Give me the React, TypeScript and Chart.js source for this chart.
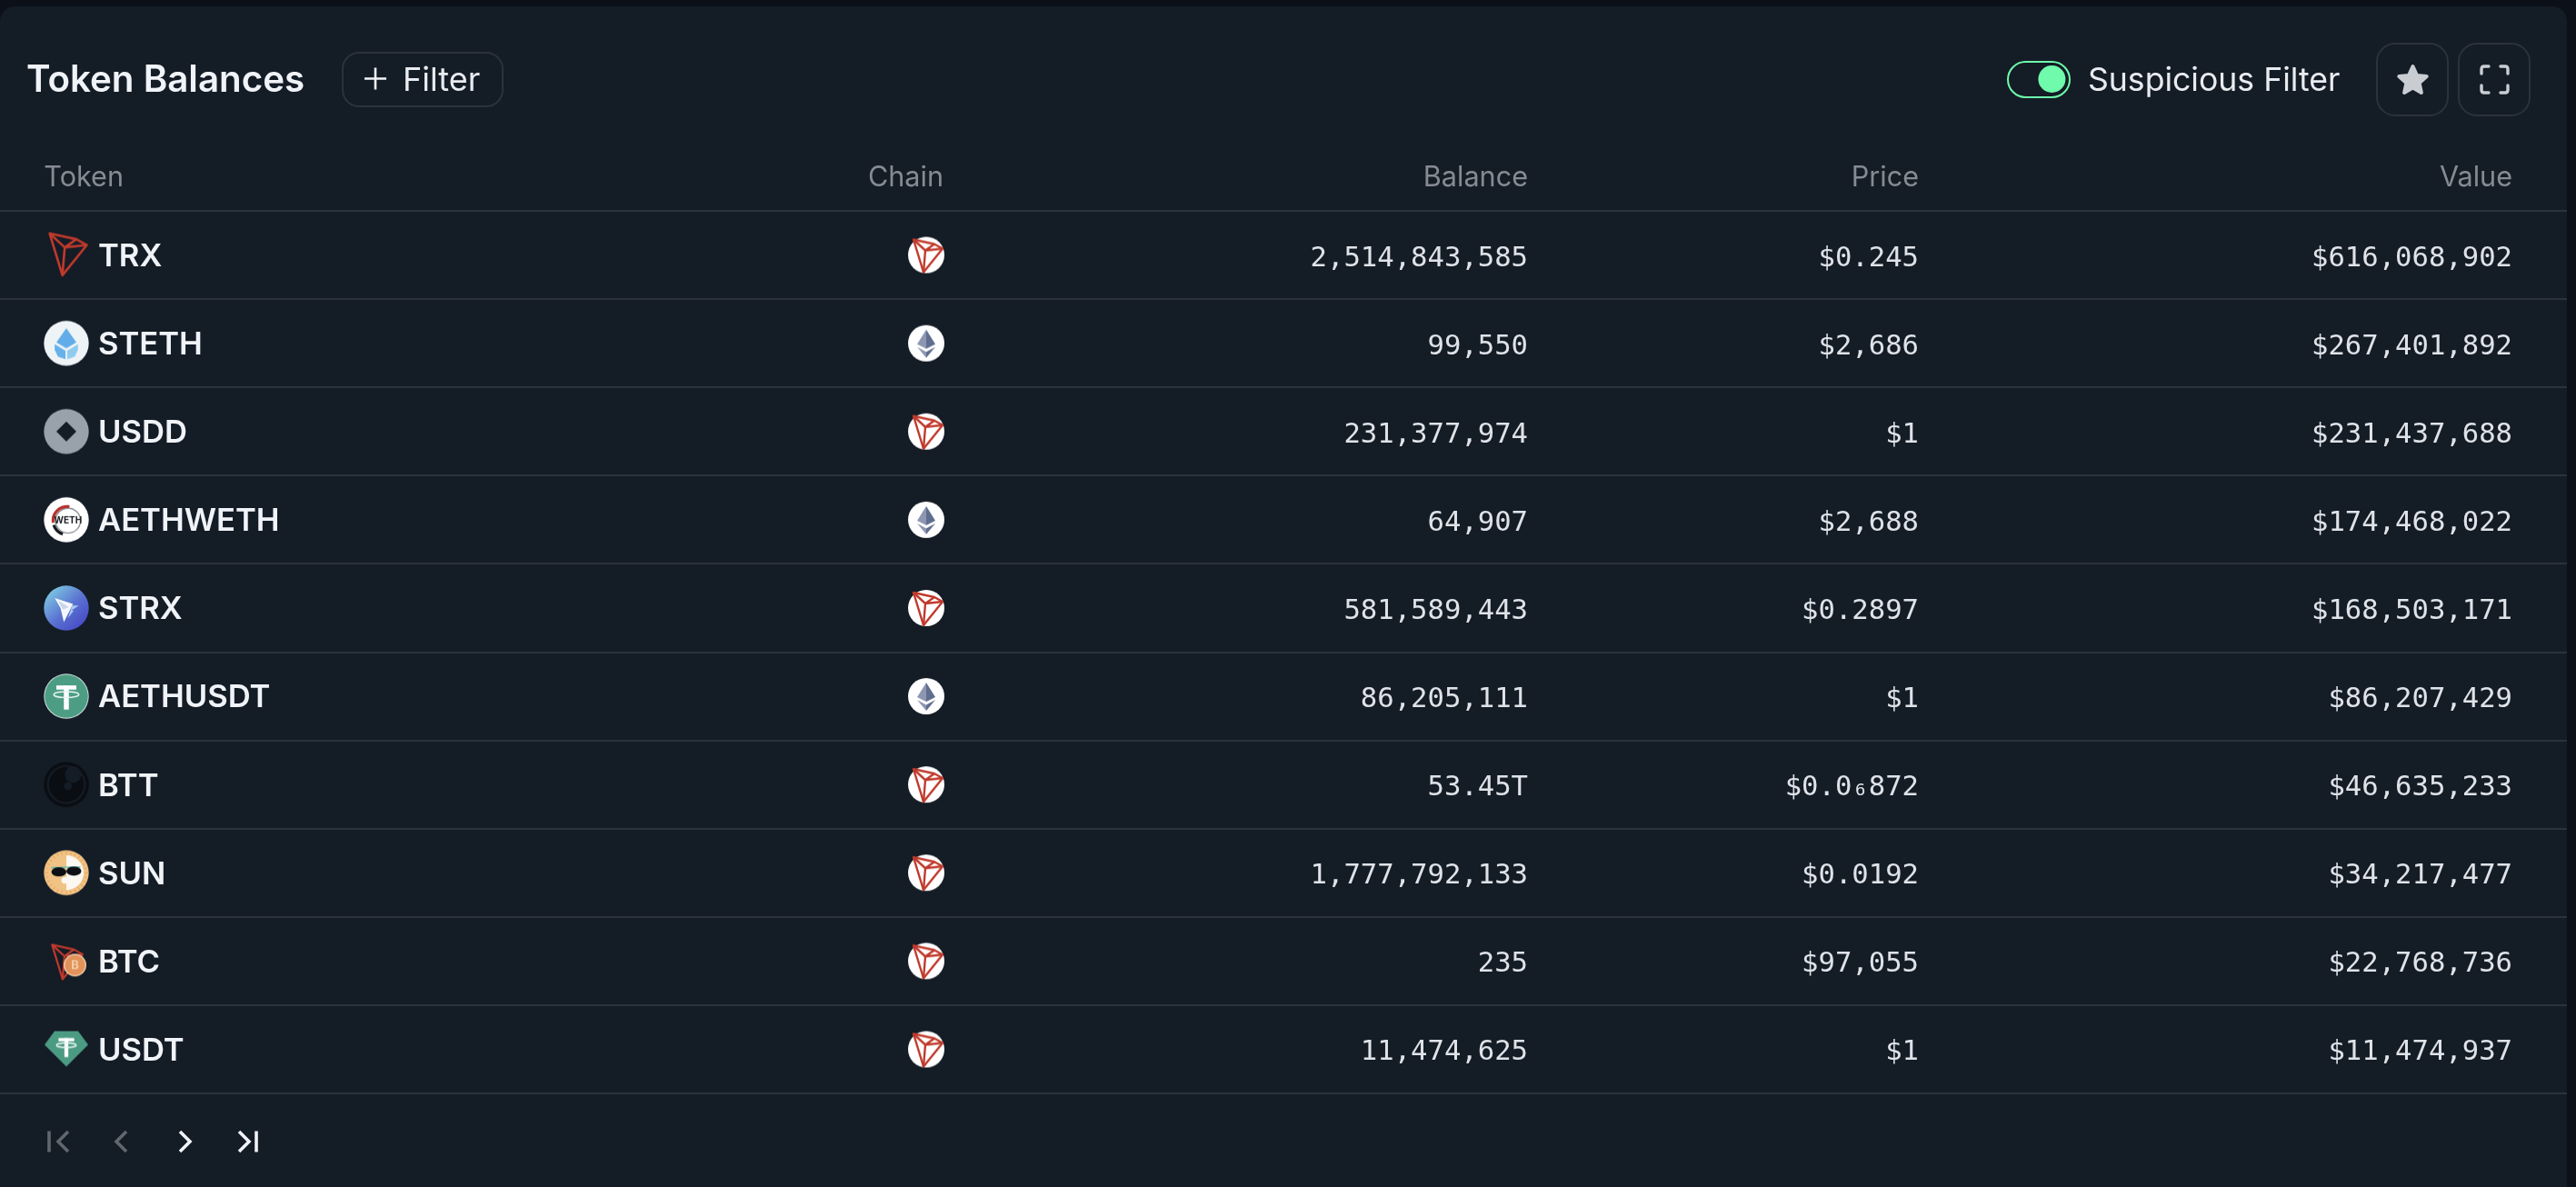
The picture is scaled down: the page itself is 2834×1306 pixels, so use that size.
import React, { useEffect, useRef } from "react";
import { Chart, registerables } from "chart.js";

Chart.register(...registerables);

// ---- data ----
const columnHeaders = ["Token", "Chain", "Balance", "Price", "Value"];
const tokens = ["TRX", "STETH", "USDD", "AETHWETH", "STRX", "AETHUSDT", "BTT", "SUN", "BTC", "USDT"];
const chains = ["TRON", "ETH", "TRON", "ETH", "TRON", "ETH", "TRON", "TRON", "TRON", "TRON"];
const balances = ["2,514,843,585", "99,550", "231,377,974", "64,907", "581,589,443", "86,205,111", "53.45T", "1,777,792,133", "235", "11,474,625"];
const prices = ["$0.245", "$2,686", "$1", "$2,688", "$0.2897", "$1", "$0.0₆872", "$0.0192", "$97,055", "$1"];
const values = ["$616,068,902", "$267,401,892", "$231,437,688", "$174,468,022", "$168,503,171", "$86,207,429", "$46,635,233", "$34,217,477", "$22,768,736", "$11,474,937"];

// ---- layout and style ----
const W = 2834;
const H = 1306;
const PANEL_RIGHT = 2824;
const HEADER_BOTTOM = 232;
const TABLE_BOTTOM = 1203;
const X_ICON = 73;
const X_CHAIN = 1019;
const X_BALANCE = 1681;
const X_PRICE = 2111;
const X_VALUE = 2764;
const headerEdges = [136, 1038, X_BALANCE, X_PRICE, X_VALUE];
const ICON_SCALE = 24.7 / 27;

const BG = "#141c26";
const OUTER = "#0c1018";
const LINE = "#2b323d";
const TEXT = "#f0f3f7";
const SANS = "Inter, 'Noto Sans', sans-serif";
const MONO = "'DejaVu Sans Mono', 'Liberation Mono', monospace";
const RED = "#c03a2c";

function poly(c: CanvasRenderingContext2D, pts: number[][], fill?: string) {
  c.beginPath();
  pts.forEach((p, i) => (i ? c.lineTo(p[0], p[1]) : c.moveTo(p[0], p[1])));
  c.closePath();
  if (fill) {
    c.fillStyle = fill;
    c.fill();
  }
}

function disc(c: CanvasRenderingContext2D, r: number, fill: string | CanvasGradient, x = 0, y = 0) {
  c.beginPath();
  c.arc(x, y, r, 0, Math.PI * 2);
  c.fillStyle = fill;
  c.fill();
}

function tron(c: CanvasRenderingContext2D, s: number, lw: number) {
  const TL = [-14 * s, -17 * s];
  const TR = [9 * s, -12 * s];
  const R = [18 * s, -7 * s];
  const B = [-3 * s, 19 * s];
  const M = [-1 * s, -5 * s];
  c.strokeStyle = RED;
  c.lineWidth = lw;
  c.lineJoin = "round";
  poly(c, [TL, TR, R, B]);
  c.stroke();
  c.beginPath();
  c.moveTo(TL[0], TL[1]);
  c.lineTo(M[0], M[1]);
  c.lineTo(B[0], B[1]);
  c.moveTo(M[0], M[1]);
  c.lineTo(R[0], R[1]);
  c.moveTo(M[0], M[1]);
  c.lineTo(TR[0], TR[1]);
  c.stroke();
}

function tetherMark(c: CanvasRenderingContext2D, s: number, dy: number) {
  c.fillStyle = "#ffffff";
  c.fillRect(-12 * s, dy - 13 * s, 24 * s, 5 * s);
  c.fillRect(-3 * s, dy - 13 * s, 6 * s, 29 * s);
  c.strokeStyle = "#e6f3ef";
  c.lineWidth = 1.6;
  c.beginPath();
  c.ellipse(0, dy - 2 * s, 15 * s, 3.5 * s, 0, 0, Math.PI * 2);
  c.stroke();
}

function icon(draw: (c: CanvasRenderingContext2D) => void, s = 1) {
  const cv = document.createElement("canvas");
  cv.width = 64;
  cv.height = 64;
  const c = cv.getContext("2d") as CanvasRenderingContext2D;
  c.translate(32, 32);
  c.scale(s, s);
  draw(c);
  return cv;
}

const chainPainters: Record<string, (c: CanvasRenderingContext2D) => void> = {
  TRON: (c) => {
    disc(c, 20, "#ffffff");
    tron(c, 1, 2.4);
  },
  ETH: (c) => {
    disc(c, 20, "#ffffff");
    poly(c, [[0, -15], [10, 1], [0, 6]], "#5f6d8e");
    poly(c, [[0, -15], [-10, 1], [0, 6]], "#8c96b2");
    poly(c, [[0, 16], [10, 4], [0, 9.5]], "#5f6d8e");
    poly(c, [[0, 16], [-10, 4], [0, 9.5]], "#8c96b2");
  },
};

const tokenPainters: Record<string, (c: CanvasRenderingContext2D) => void> = {
  TRX: (c) => {
    c.translate(-0.5, -2);
    tron(c, 1.28, 2.6);
  },
  STETH: (c) => {
    disc(c, 27, "#eef3f6");
    poly(c, [[0, -18], [12, -1], [0, 6], [-12, -1]], "#62ade9");
    poly(c, [[-14, 1], [-1, 9], [-1, 19], [-10, 16], [-14, 8]], "#66b1ea");
    poly(c, [[14, 1], [1, 9], [1, 19], [10, 16], [14, 8]], "#8fcbef");
  },
  USDD: (c) => {
    disc(c, 27, "#99a1ab");
    poly(c, [[0, -12], [12, 0], [0, 12], [-12, 0]], "#141c26");
  },
  AETHWETH: (c) => {
    disc(c, 27, "#ffffff");
    c.lineWidth = 1.5;
    c.strokeStyle = "#8b8f96";
    c.beginPath();
    c.arc(2, 1, 15, 0, Math.PI * 2);
    c.stroke();
    c.lineWidth = 3.5;
    c.strokeStyle = "#b8322c";
    c.beginPath();
    c.arc(1, 1, 17, Math.PI * 0.95, Math.PI * 1.55);
    c.stroke();
    c.strokeStyle = "#15181d";
    c.beginPath();
    c.arc(1, 1, 17, Math.PI * 0.6, Math.PI * 0.9);
    c.stroke();
    c.fillStyle = "#1b1e24";
    c.font = "700 11px " + SANS;
    c.textAlign = "center";
    c.textBaseline = "middle";
    c.fillText("WETH", 2, 1.5);
  },
  STRX: (c) => {
    const g = c.createLinearGradient(-20, -20, 18, 20);
    g.addColorStop(0, "#7cc3e2");
    g.addColorStop(0.55, "#5a72d0");
    g.addColorStop(1, "#4a4fc8");
    disc(c, 27, g);
    poly(c, [[-14, -12], [8, -5], [-3, 17], [-7, 0]], "#f4f8fc");
    poly(c, [[-10, -9], [3, -1], [-4, 2]], "#c9d5ea");
    poly(c, [[15, -3], [7, -3], [2, 12], [9, 3], [6, 3]], "#a9c8f0");
  },
  AETHUSDT: (c) => {
    disc(c, 27, "#d6e6e0");
    disc(c, 26, "#4d9d84");
    tetherMark(c, 1, 0);
  },
  BTT: (c) => {
    disc(c, 27, "#0a0d12");
    disc(c, 23.5, "#141c26");
    disc(c, 21, "#0a0d12");
    disc(c, 10, "#141c26", 8, -12);
    disc(c, 5, "#141c26", 2, 2);
  },
  SUN: (c) => {
    disc(c, 27, "#f0c384");
    c.save();
    c.beginPath();
    c.arc(0, 0, 21, -Math.PI / 2, Math.PI / 2);
    c.closePath();
    c.clip();
    disc(c, 21, "#fbf8f2");
    c.restore();
    c.strokeStyle = "#e8a668";
    c.lineWidth = 1.3;
    for (let i = 0; i < 28; i++) {
      const a = (i / 28) * Math.PI * 2;
      c.beginPath();
      c.moveTo(Math.cos(a) * 22, Math.sin(a) * 22);
      c.lineTo(Math.cos(a) * 26, Math.sin(a) * 26);
      c.stroke();
    }
    c.strokeStyle = "#58b7ae";
    c.lineWidth = 1.5;
    c.beginPath();
    c.moveTo(-18, -6);
    c.lineTo(17, -7);
    c.stroke();
    c.fillStyle = "#0c0f14";
    c.beginPath();
    c.ellipse(-9, -1, 9, 5.5, 0, 0, Math.PI * 2);
    c.ellipse(9, -2, 9, 5.5, 0, 0, Math.PI * 2);
    c.fill();
    disc(c, 4, "#fbf8f2", -2, 9);
  },
  BTC: (c) => {
    c.translate(-1, 0);
    tron(c, 1.05, 2.2);
    c.translate(1, 0);
    disc(c, 12.5, "#eecaa6", 9.5, 4.5);
    disc(c, 11, "#e2925a", 9.5, 4.5);
    c.fillStyle = "#f3cfa6";
    c.font = "700 13px " + SANS;
    c.textAlign = "center";
    c.textBaseline = "middle";
    c.fillText("B", 9.5, 5);
  },
  USDT: (c) => {
    poly(c, [[-13, -20], [13, -20], [24, -5], [0, 19], [-24, -5]], "#4b9b82");
    tetherMark(c, 0.72, -3);
  },
};

const scaledTokens = ["STETH", "USDD", "AETHWETH", "STRX", "AETHUSDT", "BTT", "SUN"];

// ---- draws the panel behind the table ----
const panelPlugin = {
  id: "panel",
  beforeDraw(chart: any) {
    const c = chart.ctx as CanvasRenderingContext2D;
    c.save();
    c.fillStyle = OUTER;
    c.fillRect(0, 0, W, H);
    c.fillStyle = BG;
    c.beginPath();
    c.roundRect(0, 7, PANEL_RIGHT, H + 40, 16);
    c.fill();
    c.restore();
  },
};

// ---- writes each dataset's cell labels at its points, and the toolbar and pager ----
const cellPlugin = {
  id: "cells",
  afterDatasetsDraw(chart: any) {
    const c = chart.ctx as CanvasRenderingContext2D;
    c.save();
    c.font = "400 30.6px " + MONO;
    c.fillStyle = "#dfe3e8";
    c.textAlign = "right";
    c.textBaseline = "alphabetic";
    chart.data.datasets.forEach((ds: any, i: number) => {
      if (!ds.cellLabels) return;
      chart.getDatasetMeta(i).data.forEach((el: any, j: number) => {
        c.fillText(ds.cellLabels[j], el.x, el.y + 12);
      });
    });
    c.restore();
  },
  afterDraw(chart: any) {
    const c = chart.ctx as CanvasRenderingContext2D;
    c.save();
    c.textBaseline = "alphabetic";
    c.textAlign = "left";

    c.fillStyle = TEXT;
    c.font = "600 40.3px " + SANS;
    c.fillText("Token Balances", 29, 101);

    c.strokeStyle = LINE;
    c.lineWidth = 2;
    c.beginPath();
    c.roundRect(377, 58, 176, 59, 18);
    c.stroke();
    c.strokeStyle = TEXT;
    c.lineWidth = 2.6;
    c.beginPath();
    c.moveTo(401, 86.5);
    c.lineTo(425, 86.5);
    c.moveTo(413, 74.5);
    c.lineTo(413, 98.5);
    c.stroke();
    c.fillStyle = "#e8ebef";
    c.font = "400 36px " + SANS;
    c.fillText("Filter", 443, 100);

    c.strokeStyle = "#6ffbab";
    c.lineWidth = 2;
    c.beginPath();
    c.roundRect(2209, 68, 68, 39, 19.5);
    c.stroke();
    disc(c, 15, "#6ffbab", 2257.4, 87);
    c.fillStyle = "#e8ebef";
    c.font = "400 35.6px " + SANS;
    c.fillText("Suspicious Filter", 2297, 100);

    c.strokeStyle = LINE;
    c.lineWidth = 2;
    c.beginPath();
    c.roundRect(2615, 48, 78, 79, 20);
    c.roundRect(2705, 48, 78, 79, 20);
    c.stroke();

    const star: number[][] = [];
    for (let i = 0; i < 10; i++) {
      const r = i % 2 ? 7.5 : 16;
      const a = -Math.PI / 2 + (i * Math.PI) / 5;
      star.push([2654.5 + Math.cos(a) * r, 89 + Math.sin(a) * r]);
    }
    poly(c, star, "#c9cdd2");
    c.strokeStyle = "#c9cdd2";
    c.lineWidth = 4;
    c.lineJoin = "round";
    c.stroke();

    c.lineWidth = 3.4;
    c.lineCap = "round";
    c.beginPath();
    c.moveTo(2730, 81);
    c.lineTo(2730, 76);
    c.quadraticCurveTo(2730, 73, 2733, 73);
    c.lineTo(2738, 73);
    c.moveTo(2751, 73);
    c.lineTo(2756, 73);
    c.quadraticCurveTo(2759, 73, 2759, 76);
    c.lineTo(2759, 81);
    c.moveTo(2730, 94);
    c.lineTo(2730, 99);
    c.quadraticCurveTo(2730, 102, 2733, 102);
    c.lineTo(2738, 102);
    c.moveTo(2751, 102);
    c.lineTo(2756, 102);
    c.quadraticCurveTo(2759, 102, 2759, 99);
    c.lineTo(2759, 94);
    c.stroke();

    c.lineCap = "butt";
    c.lineJoin = "miter";
    c.lineWidth = 3.6;
    const yp = 1256;
    const chevron = (x0: number, x1: number) => {
      c.beginPath();
      c.moveTo(x0, yp - 11);
      c.lineTo(x1, yp);
      c.lineTo(x0, yp + 11);
      c.stroke();
    };
    const bar = (x: number) => {
      c.beginPath();
      c.moveTo(x, yp - 11.5);
      c.lineTo(x, yp + 11.5);
      c.stroke();
    };
    c.strokeStyle = "#62676e";
    bar(54);
    chevron(75, 64);
    chevron(139, 128);
    c.strokeStyle = TEXT;
    chevron(198, 209);
    chevron(263, 274);
    bar(282);
    c.restore();
  },
};

const noMargins = (s: any) => {
  s.paddingLeft = 0;
  s.paddingRight = 0;
  s.paddingTop = 0;
  s.paddingBottom = 0;
};

export default function App() {
  const ref = useRef<HTMLCanvasElement | null>(null);
  useEffect(() => {
    if (!ref.current) return;
    document.body.style.margin = "0";
    document.body.style.background = OUTER;
    const chainIcons = chains.map((n) => icon(chainPainters[n]));
    const tokenIcons = tokens.map((n) => icon(tokenPainters[n], scaledTokens.includes(n) ? ICON_SCALE : 1));
    const column = (x: number) => tokens.map((t) => ({ x, y: t }));
    const chart = new Chart(ref.current, {
      type: "scatter",
      data: {
        labels: tokens,
        datasets: [
          { label: "Token", data: column(X_ICON), pointStyle: (ctx: any) => tokenIcons[ctx.dataIndex], pointRadius: 30 },
          { label: "Chain", data: column(X_CHAIN), pointStyle: (ctx: any) => chainIcons[ctx.dataIndex], pointRadius: 30 },
          { label: "Balance", data: column(X_BALANCE), pointRadius: 0, cellLabels: balances },
          { label: "Price", data: column(X_PRICE), pointRadius: 0, cellLabels: prices },
          { label: "Value", data: column(X_VALUE), pointRadius: 0, cellLabels: values },
        ] as any,
      },
      options: {
        animation: false,
        responsive: false,
        devicePixelRatio: 1,
        events: [],
        layout: { autoPadding: false, padding: { top: 0, left: 0, right: W - PANEL_RIGHT, bottom: H - TABLE_BOTTOM } },
        plugins: { legend: { display: false }, tooltip: { enabled: false }, title: { display: false } },
        scales: {
          x: {
            type: "linear",
            position: "top",
            min: 0,
            max: PANEL_RIGHT,
            grid: { display: false, drawTicks: false },
            border: { display: false },
            afterBuildTicks: (s: any) => {
              s.ticks = headerEdges.map((value) => ({ value }));
            },
            afterFit: (s: any) => {
              s.height = HEADER_BOTTOM;
              noMargins(s);
            },
            ticks: {
              autoSkip: false,
              maxRotation: 0,
              align: "end",
              padding: 18,
              color: "#868b92",
              font: { family: SANS, size: 30.6, weight: "400" },
              callback: (_v: any, i: number) => columnHeaders[i],
            },
          },
          y: {
            type: "category",
            labels: tokens,
            offset: true,
            position: "left",
            grid: { offset: true, color: LINE, lineWidth: 2, drawTicks: false },
            border: { display: false },
            afterFit: (s: any) => {
              s.width = 0;
              noMargins(s);
            },
            ticks: {
              autoSkip: false,
              mirror: true,
              padding: 108,
              labelOffset: 2,
              color: TEXT,
              font: { family: SANS, size: 34.6, weight: "600" },
            },
          },
        },
      } as any,
      plugins: [panelPlugin, cellPlugin],
    });
    return () => chart.destroy();
  }, []);
  return <canvas ref={ref} width={W} height={H} style={{ display: "block", width: W, height: H }} />;
}
